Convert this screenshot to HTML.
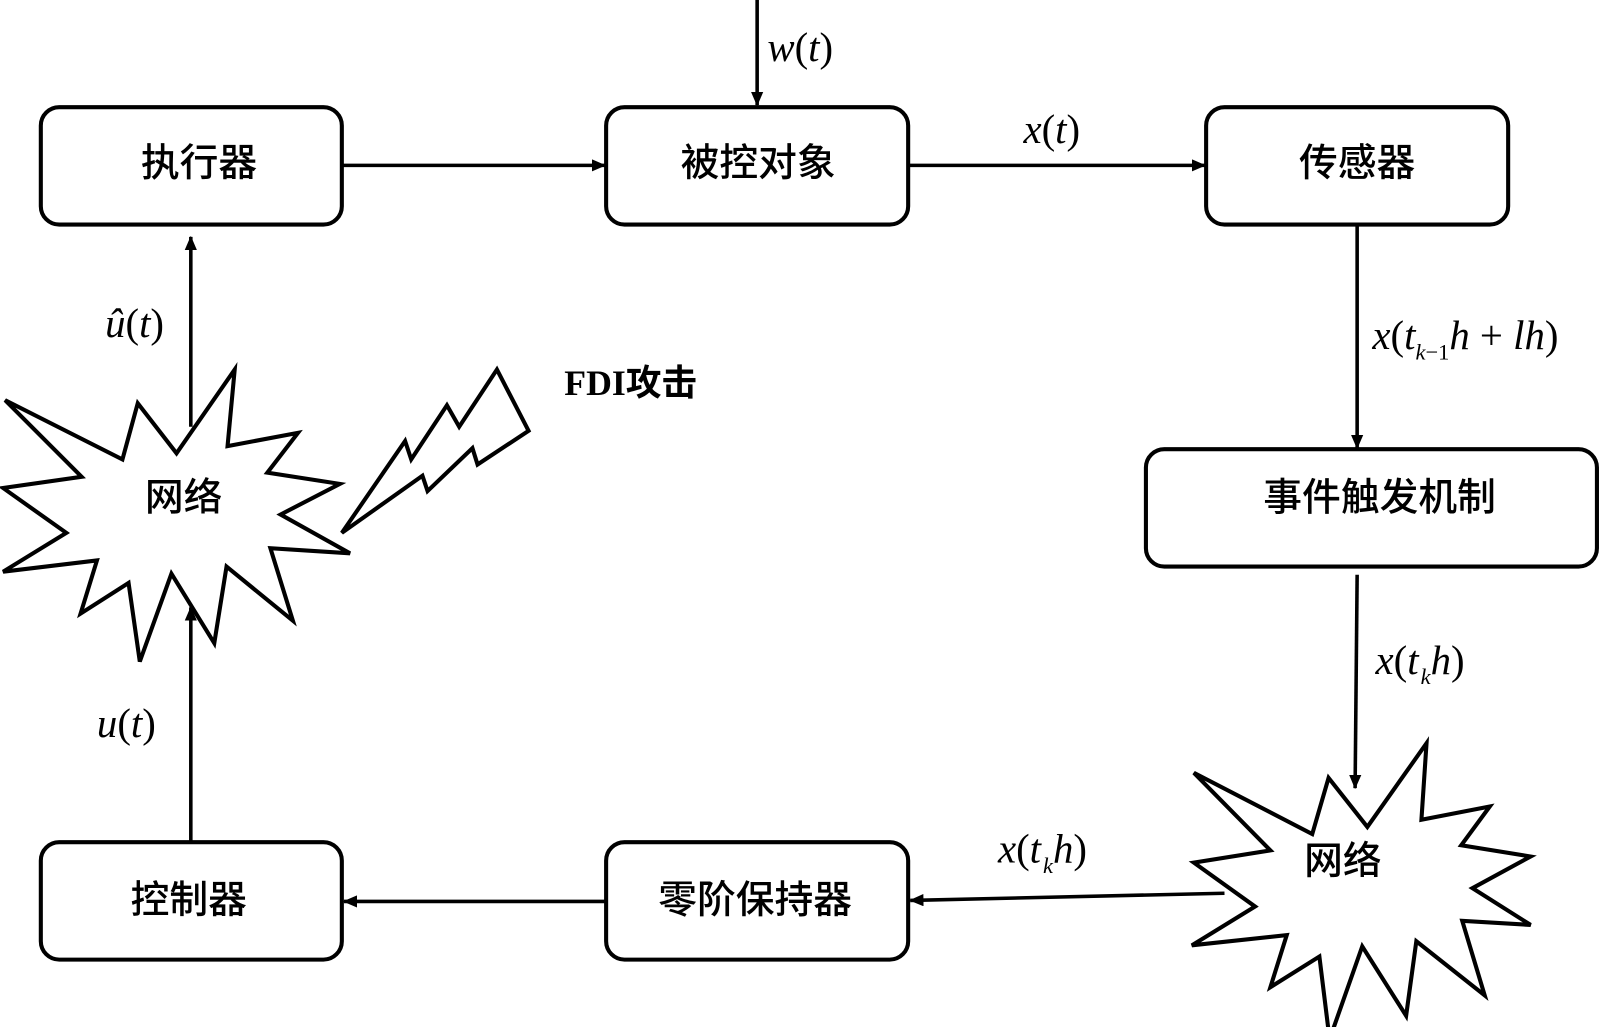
<!DOCTYPE html>
<html><head><meta charset="utf-8"><style>
body{margin:0;background:#fff;}
svg{display:block}
.cn{font-family:"Liberation Sans","Noto Sans CJK SC",sans-serif;font-size:38px;font-weight:500;}
.m{font-family:"Liberation Serif",serif;font-size:40px;}
</style></head><body>
<svg width="1600" height="1027" viewBox="0 0 1568 1006" preserveAspectRatio="none" xmlns="http://www.w3.org/2000/svg">
<defs><marker id="a" markerWidth="14" markerHeight="12" refX="13" refY="6" orient="auto" markerUnits="userSpaceOnUse"><path d="M0,0 L14,6 L0,12 z" fill="#000"/></marker></defs>
<g fill="none" stroke="#000" stroke-width="4">
<rect x="40" y="105" width="295" height="115" rx="18"/>
<rect x="594" y="105" width="296" height="115" rx="18"/>
<rect x="1182" y="105" width="296" height="115" rx="18"/>
<rect x="1123" y="440" width="442" height="115" rx="18"/>
<rect x="40" y="825" width="295" height="115" rx="18"/>
<rect x="594" y="825" width="296" height="115" rx="18"/>
<polygon points="5,392 120,450 135,395 173,444 230,362 223,437 292,424 262,463 333,474 275,504 343,542 265,537 287,608 222,555 210,630 168,562 137,648 126,571 79,601 95,549 3,560 65,522 3,478 80,467"/>
<polygon points="335,522 397,432 403,450 438,397 450,418 487,362 518,422 468,455 463,439 419,481 414,466"/>
<polygon points="1170,757 1286,817 1302,762 1340,810 1398,728 1393,803 1460,790 1432,828 1500,839 1443,870 1500,906 1433,902 1455,975 1388,922 1378,995 1335,927 1303,1018 1293,937 1245,967 1261,916 1168,926 1230,888 1170,845 1245,833"/>
</g>
<g stroke="#000" stroke-width="3.5" marker-end="url(#a)">
<line x1="742" y1="0" x2="742" y2="103"/>
<line x1="335" y1="162" x2="593" y2="162"/>
<line x1="890" y1="162" x2="1181" y2="162"/>
<line x1="1330" y1="220" x2="1330" y2="439"/>
<line x1="1330" y1="563" x2="1328" y2="772"/>
<line x1="1200" y1="875" x2="892" y2="882"/>
<line x1="594" y1="883" x2="337" y2="883"/>
<line x1="187" y1="825" x2="187" y2="595"/>
<line x1="187" y1="418" x2="187" y2="232"/>
</g>
<g class="cn" text-anchor="middle" dominant-baseline="central">
<text x="195" y="160">执行器</text>
<text x="743" y="160">被控对象</text>
<text x="1330" y="160">传感器</text>
<text x="1352" y="488">事件触发机制</text>
<text x="185" y="882">控制器</text>
<text x="740" y="882">零阶保持器</text>
<text x="180" y="488">网络</text>
<text x="1316" y="844">网络</text>
</g>
<text x="553" y="387" font-family="Liberation Serif,'Noto Serif CJK SC',serif" font-weight="bold" font-size="35">FDI<tspan font-family="'Noto Sans CJK SC',sans-serif">攻击</tspan></text>
<g class="m">
<text x="752" y="60"><tspan font-style="italic">w</tspan>(<tspan font-style="italic">t</tspan>)</text>
<text x="1003" y="140"><tspan font-style="italic">x</tspan>(<tspan font-style="italic">t</tspan>)</text>
<text x="1345" y="342"><tspan font-style="italic">x</tspan>(<tspan font-style="italic">t</tspan><tspan font-size="22" dy="10" font-style="italic">k</tspan><tspan font-size="22">−1</tspan><tspan dy="-10" font-style="italic">h</tspan> + <tspan font-style="italic">lh</tspan>)</text>
<text x="1348" y="660"><tspan font-style="italic">x</tspan>(<tspan font-style="italic">t</tspan><tspan font-size="22" dy="10" font-style="italic" dx="2">k</tspan><tspan dy="-10" font-style="italic">h</tspan>)</text>
<text x="978" y="845"><tspan font-style="italic">x</tspan>(<tspan font-style="italic">t</tspan><tspan font-size="22" dy="10" font-style="italic" dx="2">k</tspan><tspan dy="-10" font-style="italic">h</tspan>)</text>
<text x="95" y="722"><tspan font-style="italic">u</tspan>(<tspan font-style="italic">t</tspan>)</text>
<text x="103" y="330"><tspan font-style="italic">û</tspan>(<tspan font-style="italic">t</tspan>)</text>
</g>
</svg>
</body></html>
